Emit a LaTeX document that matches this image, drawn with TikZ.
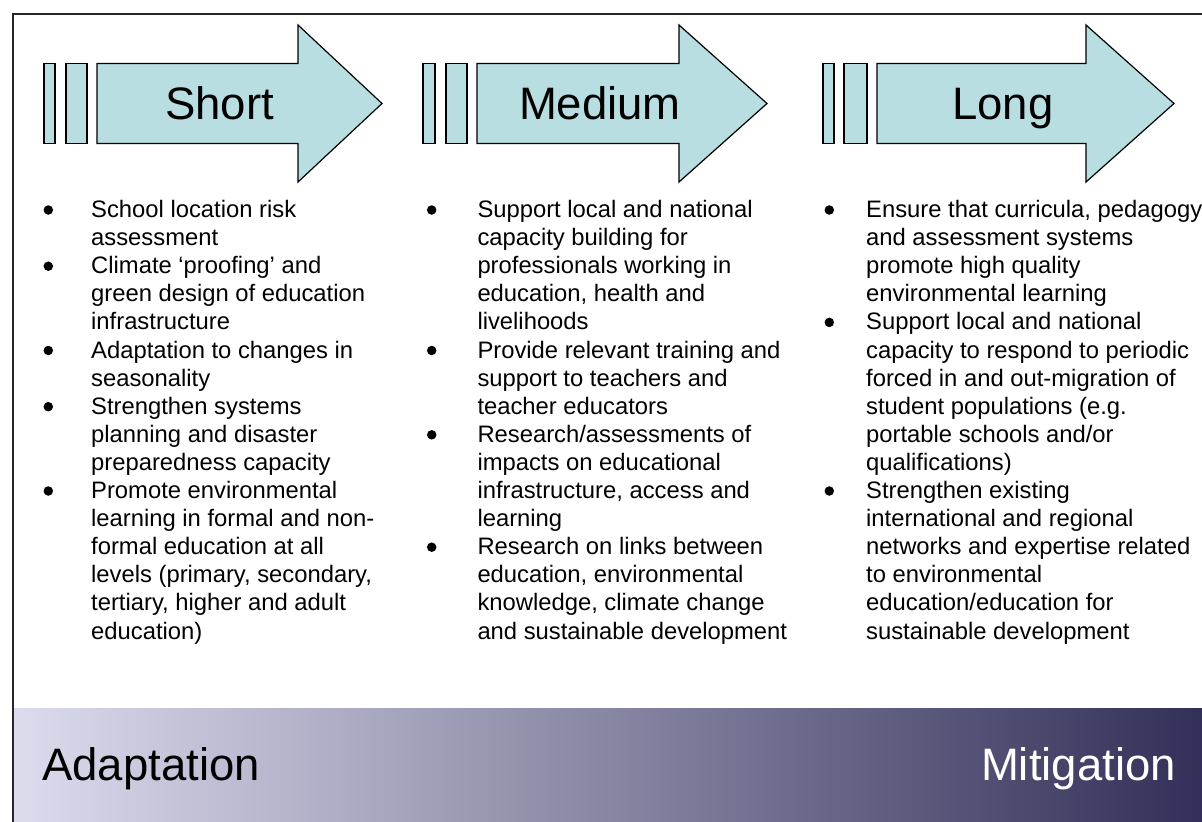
\documentclass[tikz,border=0pt]{standalone}
\usepackage{fontspec}
\setmainfont{Liberation Sans}
\definecolor{arrowfill}{RGB}{184,222,226}
\definecolor{bandleft}{RGB}{220,220,238}
\definecolor{bandmid}{RGB}{150,148,180}
\definecolor{bandright}{RGB}{50,48,88}
\begin{document}
\begin{tikzpicture}[x=1bp,y=-1bp,
  arrowshape/.style={fill=arrowfill,draw=black,line width=1.2bp,line join=miter},
  framestyle/.style={draw=black!85,line width=2bp},
  headtext/.style={font=\fontsize{45.5bp}{50bp}\selectfont,anchor=base,inner sep=0},
  bodytext/.style={font=\fontsize{23.8bp}{28bp}\selectfont,anchor=base west,inner sep=0},
  bulletdot/.style={circle,fill=black,draw=none,minimum size=9.5bp,inner sep=0},
  bandtext/.style={font=\fontsize{45.5bp}{50bp}\selectfont,inner sep=0}
]
\useasboundingbox (0,0) rectangle (1202,822);
\fill[white] (0,0) rectangle (1202,822);
% gradient band
\shade[left color=bandleft,middle color=bandmid,right color=bandright] (13.5,708) rectangle (1202,822);
% frame
\draw[framestyle] (12.5,822) -- (12.5,14.5) -- (1202,14.5);
% arrow 1
\draw[arrowshape] (44,63.5) rectangle (55,143.5);
\draw[arrowshape] (66,63.5) rectangle (87,143.5);
\draw[arrowshape] (97,63.5) -- (298,63.5) -- (298,25) -- (382,103.5) -- (298,182) -- (298,143.5) -- (97,143.5) -- cycle;
% arrow 2
\draw[arrowshape] (423,63.5) rectangle (435,143.5);
\draw[arrowshape] (446,63.5) rectangle (467,143.5);
\draw[arrowshape] (477,63.5) -- (679,63.5) -- (679,25) -- (767,103.5) -- (679,182) -- (679,143.5) -- (477,143.5) -- cycle;
% arrow 3
\draw[arrowshape] (823,63.5) rectangle (834,143.5);
\draw[arrowshape] (844,63.5) rectangle (867,143.5);
\draw[arrowshape] (877,63.5) -- (1086,63.5) -- (1086,25) -- (1174,103.5) -- (1086,182) -- (1086,143.5) -- (877,143.5) -- cycle;
% headings
\node[headtext] (hshort) at (219.5,120) {Short};
\node[headtext] (hmedium) at (600,120) {Medium};
\node[headtext] (hlong) at (1003,120) {Long};
% short column
\foreach \t [count=\i] in {School location risk, assessment, Climate ‘proofing’ and, green design of education, infrastructure, Adaptation to changes in, seasonality, Strengthen systems, planning and disaster, preparedness capacity, Promote environmental, learning in formal and non-, formal education at all, {levels (primary, secondary,}, {tertiary, higher and adult}, education)}
  \node[bodytext] (s\i) at (91,{217.5+(\i-1)*28.1}) {\t};
\foreach \k in {1,3,6,8,11}
  \node[bulletdot] (sb\k) at (48.3,{210+(\k-1)*28.1}) {};
% medium column
\foreach \t [count=\i] in {Support local and national, capacity building for, professionals working in, {education, health and}, livelihoods, Provide relevant training and, support to teachers and, teacher educators, {Research/assessments of}, impacts on educational, {infrastructure, access and}, learning, Research on links between, {education, environmental}, {knowledge, climate change}, and sustainable development}
  \node[bodytext] (m\i) at (477.3,{217.5+(\i-1)*28.1}) {\t};
\foreach \k in {1,6,9,13}
  \node[bulletdot] (mb\k) at (431.7,{210+(\k-1)*28.1}) {};
% long column
\foreach \t [count=\i] in {{Ensure that curricula, pedagogy}, and assessment systems, promote high quality, environmental learning, Support local and national, capacity to respond to periodic, forced in and out-migration of, student populations (e.g., {portable schools and/or}, qualifications), Strengthen existing, international and regional, networks and expertise related, to environmental, {education/education for}, sustainable development}
  \node[bodytext] (l\i) at (866,{217.5+(\i-1)*28.1}) {\t};
\foreach \k in {1,5,11}
  \node[bulletdot] (lb\k) at (829.3,{210+(\k-1)*28.1}) {};
% band texts
\node[bandtext,anchor=base west] (adapt) at (42,780) {Adaptation};
\node[bandtext,anchor=base east,text=white] (mitig) at (1176,780) {Mitigation};
\end{tikzpicture}
\end{document}
